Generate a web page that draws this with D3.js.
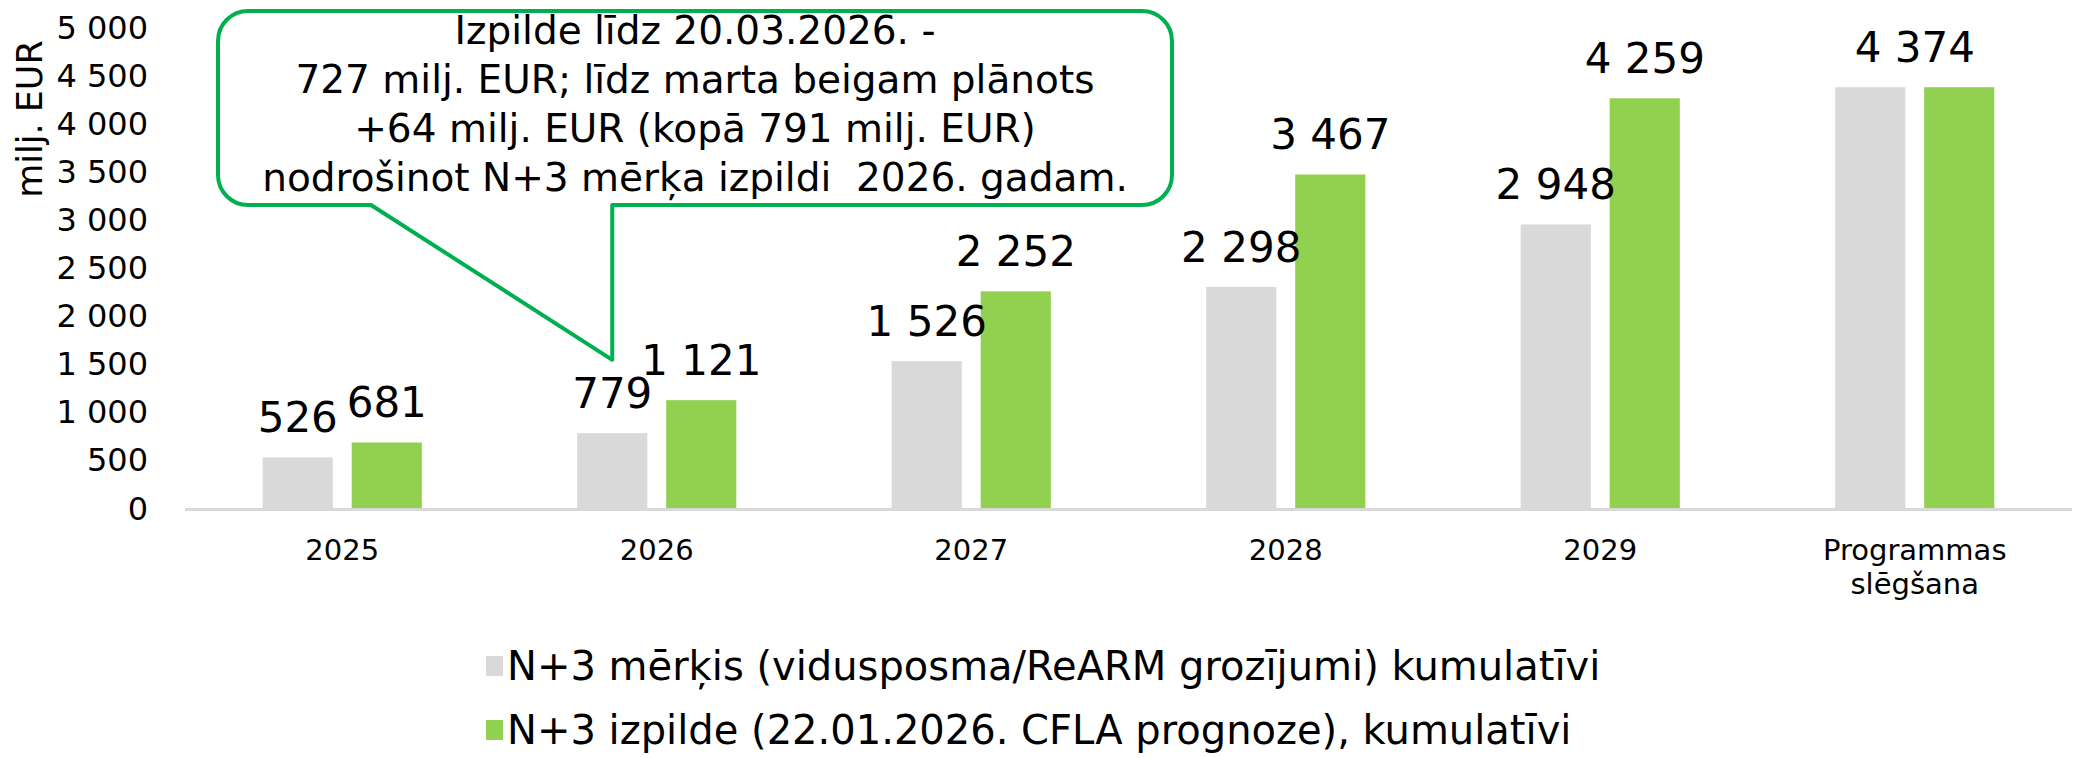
<!DOCTYPE html>
<html>
<head>
<meta charset="utf-8">
<script src="https://cdn.jsdelivr.net/npm/d3@7"></script>
<style>
  body { margin: 0; background: #fff; }
  text { font-family: "DejaVu Sans", Verdana, sans-serif; fill: #000; }
</style>
</head>
<body>
<div id="chart"></div>
<script>
// data
const categories = ["2025", "2026", "2027", "2028", "2029", "Programmas slēgšana"];
const targetValues = [526, 779, 1526, 2298, 2948, 4374];   // N+3 mērķis
const actualValues = [681, 1121, 2252, 3467, 4259, 4374];  // N+3 izpilde
const yTicks = [0, 500, 1000, 1500, 2000, 2500, 3000, 3500, 4000, 4500, 5000];
const seriesNames = [
    "N+3 mērķis (vidusposma/ReARM grozījumi) kumulatīvi",
    "N+3 izpilde (22.01.2026. CFLA prognoze), kumulatīvi"
];
const calloutLines = [
    "Izpilde līdz 20.03.2026. -",
    "727 milj. EUR; līdz marta beigam plānots",
    "+64 milj. EUR (kopā 791 milj. EUR)",
    "nodrošinot N+3 mērķa izpildi  2026. gadam."
];
const calloutTipValue = 1540;

const W = 2076, H = 758;
const colors = ["#d9d9d9", "#92d050"];
const fmt = v => d3.format(",")(v).replace(/,/g, " ");

const svg = d3.select("#chart").append("svg")
    .attr("width", W)
    .attr("height", H);

const x = d3.scaleBand()
    .domain(categories)
    .range([185, 2072]);

const y = d3.scaleLinear()
    .domain([0, 5000])
    .range([508, 27]);

const step = x.bandwidth();
const barW = step * 0.223;
const gap = step * 0.06;
const barX = (cat, i) => x(cat) + step / 2 - gap / 2 - barW + i * (barW + gap);

// y axis labels
svg.append("g")
    .selectAll("text")
    .data(yTicks)
    .join("text")
    .attr("x", 148)
    .attr("y", d => y(d))
    .attr("dy", "0.36em")
    .attr("text-anchor", "end")
    .style("font-size", "32px")
    .text(fmt);

svg.append("text")
    .attr("transform", "translate(42,119) rotate(-90)")
    .attr("text-anchor", "middle")
    .style("font-size", "35px")
    .text("milj. EUR");

// bars
const series = [targetValues, actualValues];
series.forEach((vals, si) => {
    svg.append("g")
        .selectAll("rect")
        .data(vals)
        .join("rect")
        .attr("x", (d, i) => barX(categories[i], si))
        .attr("y", d => y(d))
        .attr("width", barW)
        .attr("height", d => y(0) - y(d))
        .attr("fill", colors[si]);
});

// baseline
svg.append("line")
    .attr("x1", x.range()[0])
    .attr("x2", x.range()[1])
    .attr("y1", y(0) + 1.5)
    .attr("y2", y(0) + 1.5)
    .attr("stroke", "#d9d9d9")
    .attr("stroke-width", 3);

// data labels (one centered label where both series are equal)
const labels = [];
categories.forEach((c, i) => {
    if (targetValues[i] === actualValues[i]) {
        labels.push({ x: x(c) + step / 2, v: targetValues[i] });
    } else {
        series.forEach((vals, si) => {
            labels.push({ x: barX(c, si) + barW / 2, v: vals[i] });
        });
    }
});
svg.append("g")
    .selectAll("text")
    .data(labels)
    .join("text")
    .attr("x", d => d.x)
    .attr("y", d => y(d.v) - 25)
    .attr("text-anchor", "middle")
    .style("font-size", "42px")
    .text(d => fmt(d.v));

// category labels
svg.append("g")
    .selectAll("text")
    .data(categories)
    .join("text")
    .attr("x", d => x(d) + step / 2)
    .attr("y", 560)
    .attr("text-anchor", "middle")
    .style("font-size", "29px")
    .each(function (d) {
        const words = d.split(" ");
        d3.select(this).selectAll("tspan")
            .data(words)
            .join("tspan")
            .attr("x", x(d) + step / 2)
            .attr("dy", (w, k) => k === 0 ? 0 : "1.18em")
            .text(w => w);
    });

// legend
const legend = svg.append("g");
seriesNames.forEach((name, i) => {
    const ly = 666 + i * 64;
    legend.append("rect")
        .attr("x", 486)
        .attr("y", ly - 10)
        .attr("width", 17)
        .attr("height", 20)
        .attr("fill", colors[i]);
    legend.append("text")
        .attr("x", 507)
        .attr("y", ly)
        .attr("dy", "0.36em")
        .style("font-size", "40px")
        .text(name);
});

// callout
const bx0 = 218, bx1 = 1172, by0 = 11, by1 = 205, r = 30;
const tipX = barX("2026", 0) + barW / 2;
const tipY = y(calloutTipValue);
const p = d3.path();
p.moveTo(bx0 + r, by0);
p.lineTo(bx1 - r, by0);
p.arcTo(bx1, by0, bx1, by0 + r, r);
p.lineTo(bx1, by1 - r);
p.arcTo(bx1, by1, bx1 - r, by1, r);
p.lineTo(tipX, by1);
p.lineTo(tipX, tipY);
p.lineTo(371, by1);
p.lineTo(bx0 + r, by1);
p.arcTo(bx0, by1, bx0, by1 - r, r);
p.lineTo(bx0, by0 + r);
p.arcTo(bx0, by0, bx0 + r, by0, r);
p.closePath();

svg.append("path")
    .attr("d", p.toString())
    .attr("fill", "#fff")
    .attr("stroke", "#00b050")
    .attr("stroke-width", 4)
    .attr("stroke-linejoin", "round");

svg.append("g")
    .selectAll("text")
    .data(calloutLines)
    .join("text")
    .attr("x", (bx0 + bx1) / 2)
    .attr("y", (d, i) => 30 + i * 49)
    .attr("dy", "0.36em")
    .attr("text-anchor", "middle")
    .attr("xml:space", "preserve")
    .style("font-size", "39px")
    .text(d => d);
</script>
</body>
</html>
